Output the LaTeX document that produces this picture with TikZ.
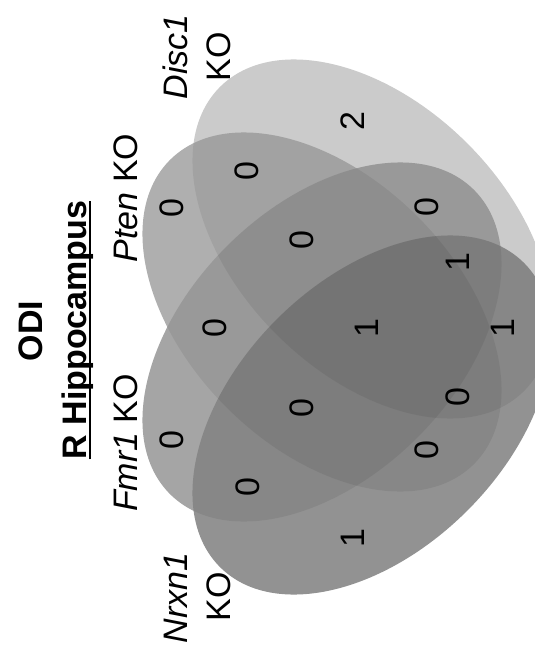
\documentclass[tikz,border=0pt]{standalone}
\usepackage{fontspec}
\setmainfont{Liberation Sans}
% underline drawn just below the baseline, across the descenders
\newcommand{\baseul}[1]{\setbox0\hbox{#1}\rlap{\rule[-4.5pt]{\wd0}{1.6pt}}\box0}
% one set of the diagram: style, centre, tilt
\newcommand{\vennset}[3]{\fill[#1, rotate around={#3:(#2)}] (#2) ellipse [x radius=215, y radius=135];}
\begin{document}
\begin{tikzpicture}[x=1pt,y=1pt,
  lbl/.style={rotate=90, anchor=base, inner sep=0pt, font=\fontsize{34}{40}\selectfont},
  num/.style={rotate=90, inner sep=0pt, font=\fontsize{34}{40}\selectfont},
  setbase/.style={fill=black!#1},
  setveil/.style={fill=black, fill opacity=0.07}]
\useasboundingbox (0,0) rectangle (535,-646);

\begin{scope}
  \clip (0,0) rectangle (535,-646);
  % flat tones, lightest first, so each region shows its darkest set
  \vennset{setbase=14}{372,-239}{-45} % Disc1
  \vennset{setbase=26}{322,-312}{-45} % Pten
  \vennset{setbase=30}{322,-342}{45}  % Fmr1
  \vennset{setbase=38}{372,-415}{45}  % Nrxn1
  % light veils that deepen the overlaps
  \vennset{setveil}{372,-239}{-45}
  \vennset{setveil}{322,-312}{-45}
  \vennset{setveil}{322,-342}{45}
  \vennset{setveil}{372,-415}{45}
\end{scope}

% titles
\node[lbl, font=\bfseries\fontsize{34}{40}\selectfont] (title) at (42,-331) {ODI};
\node[lbl, font=\bfseries\fontsize{34}{40}\selectfont] (region) at (86,-330) {\baseul{R Hippocampus}};

% set labels
\node[lbl] (lfmr) at (137,-443) {\textit{Fmr1} KO};
\node[lbl] (lpten) at (137,-198) {\textit{Pten} KO};
\node[lbl] (ldisca) at (187,-57) {\textit{Disc1}};
\node[lbl] (ldiscb) at (230,-57) {KO};
\node[lbl] (lnrxa) at (187,-598) {\textit{Nrxn1}};
\node[lbl] (lnrxb) at (230,-597) {KO};

% region counts
\node[num] (n1)  at (172,-440) {0};
\node[num] (n2)  at (172,-208) {0};
\node[num] (n3)  at (247,-171) {0};
\node[num] (n4)  at (353,-121) {2};
\node[num] (n5)  at (215,-328) {0};
\node[num] (n6)  at (302,-240) {0};
\node[num] (n7)  at (427,-207) {0};
\node[num] (n8)  at (458,-262) {1};
\node[num] (n9)  at (367,-328) {1};
\node[num] (n10) at (503,-328) {1};
\node[num] (n11) at (302,-408) {0};
\node[num] (n12) at (458,-397) {0};
\node[num] (n13) at (427,-450) {0};
\node[num] (n14) at (248,-487) {0};
\node[num] (n15) at (353,-538) {1};
\end{tikzpicture}
\end{document}
